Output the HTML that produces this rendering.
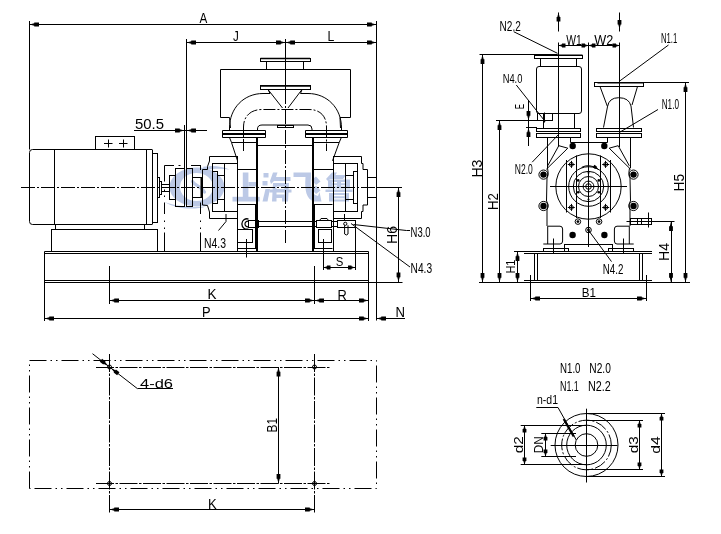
<!DOCTYPE html>
<html><head><meta charset="utf-8"><title>Pump outline drawing</title>
<style>
html,body{margin:0;padding:0;background:#fff;}
body{width:721px;height:534px;overflow:hidden;font-family:"Liberation Sans",sans-serif;}
svg{display:block;will-change:transform;}
svg line,svg path,svg rect,svg circle,svg polyline{fill:none;stroke:#000;stroke-width:1;}
svg .f{fill:#000;stroke:none;}
svg .cl{stroke-dasharray:14 2 2 2;}
svg .cl2{stroke-dasharray:9 2 1.5 2;}
svg .cl3{stroke-dasharray:12 2 2 2;}
svg .cl4{stroke-dasharray:18 1.5 2.5 1.5;}
svg .ph{stroke-dasharray:17 4 1.5 4 1.5 4;}
svg .wm{fill:#bcc9e6;stroke:none;}
svg .wms{fill:none;stroke:#bcc9e6;}
svg text{font-family:"Liberation Sans",sans-serif;fill:#000;stroke:none;}
</style></head><body>
<svg width="721" height="534" viewBox="0 0 721 534">
<rect x="0" y="0" width="721" height="534" style="fill:#fff;stroke:none"/>
<g id="wm">
<path class="wm" fill-rule="evenodd" d="M169.5,187 A27.5,19.5 0 1 1 224.5,187 A27.5,19.5 0 1 1 169.5,187 Z M180,187 A16.5,14 0 1 0 213,187 A16.5,14 0 1 0 180,187 Z"/>
<path class="wms" style="stroke-width:3.2" stroke-linecap="round" d="M192.5,181.5 C195,186 201,186 204.5,192"/>
<path class="wm" d="M164.5,202 C176,209.5 196,210 206,206.5 C194,207.5 178,207 164.5,202 Z"/>
<path class="wm" d="M203,166.8 C212,165 222,166 229.5,169.5 C221,168.3 212,168.5 204,170.5 Z"/>
<rect x="242.8" y="172.5" width="5.6" height="24.5" class="wm"/>
<rect x="248.4" y="182" width="8.4" height="4.5" class="wm"/>
<rect x="232.5" y="196.8" width="27.1" height="4.7" class="wm"/>
<rect x="263.5" y="173" width="5.0" height="4.5" class="wm"/>
<rect x="262.5" y="181" width="5.0" height="4.5" class="wm"/>
<path class="wm" d="M262.5,201.5 L267.5,201.5 L270,189 L265.5,189 Z"/>
<path class="wm" d="M273,172.5 L277.5,172.5 L276,177 L290.5,177 L290.5,181 L274,181 L271,184 L270,181 Z"/>
<path class="wm" fill-rule="evenodd" d="M273,183 L289,183 L288,201.5 L282,201.5 L282,198 L276.5,198 L276.5,201.5 L272,201.5 Z M276.5,186.5 L276.5,189 L284.5,189 L284.5,186.5 Z M276.5,192 L276.5,194.5 L284.5,194.5 L284.5,192 Z"/>
<rect x="269.5" y="189.5" width="22.0" height="3.0" class="wm"/>
<path class="wm" d="M293.5,172.5 L311,172.5 L311,177 C310,188 312,195 318,196 L319.5,192 L321.5,201.5 L314,201.5 C306,199 304.5,190 305.5,177 L293.5,177 Z"/>
<path class="wm" d="M311.5,180 L316,176.5 L320.5,181.5 L316,185 Z"/>
<path class="wm" d="M311.5,189 L316,185.5 L320.5,190.5 L316,194 Z"/>
<path class="wm" d="M332,172.5 L337,172.5 L335.5,175 L346,175 L343,179 L330,179 L328,181 L326,179 Z"/>
<path class="wm" fill-rule="evenodd" d="M328,179.5 L350,179.5 L350,188.5 L328,188.5 Z M332.5,182 L332.5,183.2 L337,183.2 L337,182 Z M341,182 L341,183.2 L345.5,183.2 L345.5,182 Z M332.5,185.2 L332.5,186.4 L337,186.4 L337,185.2 Z M341,185.2 L341,186.4 L345.5,186.4 L345.5,185.2 Z"/>
<rect x="325.5" y="189.5" width="27.0" height="2.5" class="wm"/>
<path class="wm" fill-rule="evenodd" d="M329,193 L349,193 L349,201.5 L329,201.5 Z M333.5,195 L333.5,196.3 L344.5,196.3 L344.5,195 Z M333.5,198.3 L333.5,199.5 L344.5,199.5 L344.5,198.3 Z"/>
</g>
<g id="mainview">
<line x1="29.5" y1="21" x2="29.5" y2="149.5"/>
<line x1="376.5" y1="21" x2="376.5" y2="320.5"/>
<line x1="29" y1="24.5" x2="377" y2="24.5"/>
<polygon class="f" points="29.5,24.5 34.25,23.32 34.25,22.6 39.0,22.6 39.0,26.4 34.25,26.4 34.25,25.68"/>
<polygon class="f" points="376.5,24.5 371.75,25.68 371.75,26.4 367.0,26.4 367.0,22.6 371.75,22.6 371.75,23.32"/>
<text x="199.5" y="22.5" font-size="14.5" textLength="7.8" lengthAdjust="spacingAndGlyphs">A</text>
<line x1="186.5" y1="39" x2="186.5" y2="206"/>
<line x1="184.5" y1="125" x2="184.5" y2="206"/>
<line x1="186.5" y1="42.5" x2="376.5" y2="42.5"/>
<polygon class="f" points="186.5,42.5 191.25,41.32 191.25,40.6 196.0,40.6 196.0,44.4 191.25,44.4 191.25,43.68"/>
<polygon class="f" points="285.5,42.5 280.75,43.68 280.75,44.4 276.0,44.4 276.0,40.6 280.75,40.6 280.75,41.32"/>
<polygon class="f" points="285.5,42.5 290.25,41.32 290.25,40.6 295.0,40.6 295.0,44.4 290.25,44.4 290.25,43.68"/>
<polygon class="f" points="376.5,42.5 371.75,43.68 371.75,44.4 367.0,44.4 367.0,40.6 371.75,40.6 371.75,41.32"/>
<text x="233" y="41.2" font-size="14" textLength="5.8" lengthAdjust="spacingAndGlyphs">J</text>
<text x="327.5" y="41" font-size="14" textLength="6.8" lengthAdjust="spacingAndGlyphs">L</text>
<line x1="285.5" y1="39" x2="285.5" y2="90"/>
<line x1="285.5" y1="90" x2="285.5" y2="243" class="cl"/>
<line x1="134" y1="130.5" x2="207" y2="130.5"/>
<polygon class="f" points="184.5,130.5 179.75,131.68 179.75,132.4 175.0,132.4 175.0,128.6 179.75,128.6 179.75,129.32"/>
<polygon class="f" points="186.5,130.5 191.25,129.32 191.25,128.6 196.0,128.6 196.0,132.4 191.25,132.4 191.25,131.68"/>
<text x="135" y="129.3" font-size="14" textLength="29" lengthAdjust="spacingAndGlyphs">50.5</text>
<line x1="21" y1="187.5" x2="402" y2="187.5" class="cl"/>
<path d="M32.5,149.5 L146.5,149.5 L146.5,224.5 L32.5,224.5 Q29.5,224.5 29.5,221.5 L29.5,152.5 Q29.5,149.5 32.5,149.5 Z"/>
<line x1="54.5" y1="149.5" x2="54.5" y2="224.5"/>
<line x1="146" y1="149.5" x2="152" y2="149.5"/>
<line x1="152.5" y1="149.5" x2="152.5" y2="224.5"/>
<line x1="146" y1="224.5" x2="152" y2="224.5"/>
<rect x="152.5" y="153.5" width="5.0" height="69.0"/>
<rect x="95.5" y="136.5" width="39.0" height="13.0"/>
<line x1="104" y1="143.5" x2="112.5" y2="143.5"/>
<line x1="108.5" y1="139.5" x2="108.5" y2="147.5"/>
<line x1="119" y1="143.5" x2="127.5" y2="143.5"/>
<line x1="123.5" y1="139.5" x2="123.5" y2="147.5"/>
<rect x="55.5" y="224.5" width="89.0" height="5.0"/>
<rect x="51.5" y="229.5" width="106.0" height="22.0"/>
<rect x="157.5" y="177.5" width="2.0" height="20.0"/>
<rect x="159.5" y="181.5" width="2.0" height="13.0"/>
<line x1="161.5" y1="184.5" x2="169.5" y2="184.5"/>
<line x1="161.5" y1="191.5" x2="169.5" y2="191.5"/>
<rect x="169.5" y="175.5" width="6.0" height="24.0"/>
<rect x="175.5" y="168.5" width="9.0" height="38.0"/>
<rect x="186.5" y="168.5" width="6.0" height="38.0"/>
<rect x="192.5" y="177.5" width="9.0" height="20.0"/>
<rect class="f" x="200.5" y="177" width="2" height="20.5"/>
<line x1="164.5" y1="202.5" x2="164.5" y2="214"/>
<line x1="164.5" y1="220.5" x2="164.5" y2="222"/>
<line x1="164.5" y1="227.5" x2="164.5" y2="229"/>
<line x1="164.5" y1="232.5" x2="164.5" y2="251"/>
<line x1="200.5" y1="202.5" x2="200.5" y2="214"/>
<line x1="200.5" y1="220.5" x2="200.5" y2="222"/>
<line x1="200.5" y1="227.5" x2="200.5" y2="229"/>
<line x1="200.5" y1="232.5" x2="200.5" y2="251"/>
<line x1="164.5" y1="165.5" x2="164.5" y2="181.5"/>
<line x1="164.5" y1="189.5" x2="164.5" y2="191"/>
<line x1="164.5" y1="195.5" x2="164.5" y2="197"/>
<line x1="200.5" y1="165.5" x2="200.5" y2="170"/>
<line x1="164.5" y1="165.5" x2="174" y2="165.5"/>
<line x1="178.5" y1="165.5" x2="180.5" y2="165.5"/>
<line x1="191" y1="165.5" x2="201" y2="165.5"/>
<line x1="44.5" y1="251.5" x2="368.5" y2="251.5"/>
<line x1="44.5" y1="253.5" x2="368.5" y2="253.5"/>
<line x1="44.5" y1="280.5" x2="368.5" y2="280.5"/>
<line x1="44.5" y1="282.5" x2="402.5" y2="282.5"/>
<line x1="44.5" y1="251.5" x2="44.5" y2="321"/>
<line x1="368.5" y1="251.5" x2="368.5" y2="321"/>
<line x1="109.5" y1="266" x2="109.5" y2="304"/>
<line x1="314.5" y1="266" x2="314.5" y2="304"/>
<line x1="109.5" y1="300.5" x2="368.5" y2="300.5"/>
<polygon class="f" points="109.5,300.5 114.25,299.32 114.25,298.6 119.0,298.6 119.0,302.4 114.25,302.4 114.25,301.68"/>
<polygon class="f" points="314.5,300.5 309.75,301.68 309.75,302.4 305.0,302.4 305.0,298.6 309.75,298.6 309.75,299.32"/>
<polygon class="f" points="314.5,300.5 319.25,299.32 319.25,298.6 324.0,298.6 324.0,302.4 319.25,302.4 319.25,301.68"/>
<polygon class="f" points="368.5,300.5 363.75,301.68 363.75,302.4 359.0,302.4 359.0,298.6 363.75,298.6 363.75,299.32"/>
<line x1="44.5" y1="318.5" x2="368.5" y2="318.5"/>
<line x1="376.5" y1="318.5" x2="405" y2="318.5"/>
<polygon class="f" points="44.5,318.5 49.25,317.32 49.25,316.6 54.0,316.6 54.0,320.4 49.25,320.4 49.25,319.68"/>
<polygon class="f" points="368.5,318.5 363.75,319.68 363.75,320.4 359.0,320.4 359.0,316.6 363.75,316.6 363.75,317.32"/>
<polygon class="f" points="376.5,318.5 381.25,317.32 381.25,316.6 386.0,316.6 386.0,320.4 381.25,320.4 381.25,319.68"/>
<text x="207.5" y="299" font-size="14.5" textLength="9" lengthAdjust="spacingAndGlyphs">K</text>
<text x="202" y="317" font-size="14.5" textLength="8.6" lengthAdjust="spacingAndGlyphs">P</text>
<text x="337.5" y="300" font-size="14.5" textLength="9.3" lengthAdjust="spacingAndGlyphs">R</text>
<text x="395.5" y="316.7" font-size="14.5" textLength="9.5" lengthAdjust="spacingAndGlyphs">N</text>
<line x1="323.5" y1="239" x2="323.5" y2="270"/>
<line x1="355.5" y1="227" x2="355.5" y2="270"/>
<line x1="323.5" y1="267.5" x2="355" y2="267.5"/>
<polygon class="f" points="323.5,267.5 327.0,266.32 327.0,265.6 330.5,265.6 330.5,269.4 327.0,269.4 327.0,268.68"/>
<polygon class="f" points="355,267.5 351.5,268.68 351.5,269.4 348.0,269.4 348.0,265.6 351.5,265.6 351.5,266.32"/>
<text x="335.8" y="265.8" font-size="13.5" textLength="7.6" lengthAdjust="spacingAndGlyphs">S</text>
<line x1="376.5" y1="187.5" x2="402" y2="187.5"/>
<line x1="398.5" y1="187.5" x2="398.5" y2="282"/>
<polygon class="f" points="398.5,187.5 399.68,192.25 400.4,192.25 400.4,197.0 396.6,197.0 396.6,192.25 397.32,192.25"/>
<polygon class="f" points="398.5,282 397.32,277.25 396.6,277.25 396.6,272.5 400.4,272.5 400.4,277.25 399.68,277.25"/>
<text transform="translate(397.3,244) rotate(-90)" font-size="14" textLength="18" lengthAdjust="spacingAndGlyphs">H6</text>
<path d="M353.5,224.5 L406.5,230.5 L410,230.5"/>
<text x="410.6" y="237" font-size="14.5" textLength="20" lengthAdjust="spacingAndGlyphs">N3.0</text>
<line x1="351" y1="223.5" x2="410" y2="267"/>
<text x="410.6" y="273.3" font-size="14.5" textLength="21.5" lengthAdjust="spacingAndGlyphs">N4.3</text>
<path d="M226,214 L226,221.5 L218.5,230.5"/>
<text x="204" y="247.5" font-size="14" textLength="22" lengthAdjust="spacingAndGlyphs">N4.3</text>
</g>
<g id="pump">
<rect x="260.5" y="58.5" width="50.0" height="3.0"/>
<line x1="260.5" y1="58.5" x2="310" y2="58.5" style="stroke-width:1.6"/>
<line x1="266.5" y1="61.5" x2="266.5" y2="69.5"/>
<line x1="303.5" y1="61.5" x2="303.5" y2="69.5"/>
<path d="M229.5,117.5 L220.5,117.5 L220.5,69.5 L350.5,69.5 L350.5,117.5 L340,117.5"/>
<rect x="260.5" y="85.5" width="50.0" height="4.0"/>
<line x1="260.5" y1="86" x2="310" y2="86" style="stroke-width:1.6"/>
<path d="M268,89.5 L282.5,108"/>
<path d="M302,89.5 L288,108"/>
<path d="M268,89.5 L270,93.5"/>
<path d="M302,89.5 L300.5,93.5"/>
<path d="M229.5,130.5 L229.5,128 C229.5,108 244,93.5 263,93.5 L270,93.5"/>
<path d="M300.5,93.5 L308,93.5 C327,93.5 341.5,108 341.5,128 L341.5,130.5"/>
<line x1="229.5" y1="117.5" x2="230.5" y2="128"/>
<line x1="340" y1="117.5" x2="340.5" y2="128"/>
<path d="M243.5,151 L243.5,127 C243.5,116 251,109.5 262,109.5 L309,109.5 C320,109.5 326.5,116 326.5,127 L326.5,151" class="cl3"/>
<path d="M257.5,130.5 L257.5,129 Q257.5,125 262,125 L308,125 Q312,125 312,129 L312,130.5"/>
<rect x="277.5" y="125.5" width="16.0" height="2.0"/>
<line x1="222.5" y1="130.5" x2="265.5" y2="130.5"/>
<line x1="222.5" y1="134" x2="265.5" y2="134" style="stroke-width:2"/>
<line x1="222.5" y1="137.5" x2="265.5" y2="137.5"/>
<line x1="222.5" y1="130.5" x2="222.5" y2="137.5"/>
<line x1="265.5" y1="130.5" x2="265.5" y2="137.5"/>
<line x1="305.5" y1="130.5" x2="347.5" y2="130.5"/>
<line x1="305.5" y1="134" x2="347.5" y2="134" style="stroke-width:2"/>
<line x1="305.5" y1="137.5" x2="347.5" y2="137.5"/>
<line x1="305.5" y1="130.5" x2="305.5" y2="137.5"/>
<line x1="347.5" y1="130.5" x2="347.5" y2="137.5"/>
<path d="M229.5,137.5 L231.5,142.5 L237.5,160.8"/>
<path d="M341.3,137.5 L339.2,142.5 L332.5,160.8"/>
<line x1="257" y1="137.5" x2="257" y2="251.5" style="stroke-width:2"/>
<line x1="313" y1="137.5" x2="313" y2="251.5" style="stroke-width:2"/>
<line x1="257.5" y1="145.5" x2="313" y2="145.5"/>
<line x1="231.5" y1="142.5" x2="257" y2="142.5"/>
<line x1="313" y1="142.5" x2="339.2" y2="142.5"/>
<line x1="237.5" y1="169.5" x2="257.5" y2="169.5"/>
<line x1="313" y1="169.5" x2="333" y2="169.5"/>
<line x1="237.5" y1="156" x2="237.5" y2="251.5"/>
<line x1="333.5" y1="156" x2="333.5" y2="251.5"/>
<path d="M237.5,156.5 L209.5,156.5 L209.5,161 L207.5,166.5 L207.5,169.5 L202.5,169.5 L202.5,205 L207.5,205.5 L209.5,212 L209.5,218.5 L237.5,218.5"/>
<rect x="212.5" y="163.5" width="25.0" height="48.0"/>
<line x1="224.5" y1="163.5" x2="224.5" y2="211.5"/>
<rect x="212.5" y="171.5" width="5.0" height="32.0"/>
<line x1="217.5" y1="175.5" x2="224.5" y2="175.5"/>
<line x1="217.5" y1="199.5" x2="224.5" y2="199.5"/>
<path d="M333,156.5 L361.5,156.5 L361.5,163.5 L363,163.5 L363,169.5 L367.5,169.5 L367.5,205 L363,205 L363,211.5 L361.5,211.5 L361.5,218.5 L333,218.5"/>
<rect x="333.5" y="163.5" width="24.0" height="48.0"/>
<line x1="345.5" y1="163.5" x2="345.5" y2="211.5"/>
<rect x="353.5" y="171.5" width="4.0" height="32.0"/>
<line x1="345.5" y1="175.5" x2="353.5" y2="175.5"/>
<line x1="345.5" y1="199.5" x2="353.5" y2="199.5"/>
<rect x="367.5" y="177.5" width="9.0" height="20.0"/>
<line x1="237.5" y1="204.5" x2="257.5" y2="204.5"/>
<line x1="255.5" y1="204" x2="255.5" y2="248.5"/>
<line x1="237.5" y1="248.5" x2="257.5" y2="248.5"/>
<line x1="312.5" y1="204.5" x2="332.5" y2="204.5"/>
<line x1="314.5" y1="204" x2="314.5" y2="248.5"/>
<line x1="312.5" y1="248.5" x2="332.5" y2="248.5"/>
<rect x="237.5" y="229.5" width="15.0" height="13.0"/>
<line x1="246.5" y1="239" x2="246.5" y2="257.5"/>
<rect x="248.5" y="220.5" width="10.0" height="7.0"/>
<path d="M248.5,219 A5.2,5.2 0 1 0 248.5,229" style="stroke-width:1.3"/>
<path d="M248.5,221.3 A2.8,2.8 0 1 0 248.5,226.7" style="stroke-width:1.2"/>
<line x1="258.5" y1="221.5" x2="316.5" y2="221.5"/>
<line x1="258.5" y1="226.5" x2="316.5" y2="226.5"/>
<rect x="316.5" y="220.5" width="15.0" height="7.0"/>
<path d="M319.5,220.5 L321,218.5 L327,218.5 L328.5,220.5"/>
<rect x="318.5" y="229.5" width="13.0" height="13.0"/>
<line x1="331.5" y1="221.5" x2="337" y2="221.5"/>
<line x1="331.5" y1="226.5" x2="337" y2="226.5"/>
<rect x="337.5" y="220.5" width="18.0" height="7.0"/>
<circle cx="345.3" cy="223.8" r="1.6"/>
<path d="M344.6,225.3 L344.6,234 Q346.3,236 348,234 L348,225.3"/>
<line x1="344.5" y1="214" x2="344.5" y2="221"/>
</g>
<g id="rightview">
<line x1="558.5" y1="12.5" x2="558.5" y2="31.5"/>
<polygon class="f" points="558.5,12.5 559.68,17.0 560.4,17.0 560.4,21.5 556.6,21.5 556.6,17.0 557.32,17.0"/>
<line x1="619.5" y1="12.5" x2="619.5" y2="31.5"/>
<polygon class="f" points="619.5,29 618.32,24.5 617.6,24.5 617.6,20.0 621.4,20.0 621.4,24.5 620.68,24.5"/>
<line x1="558.5" y1="42.5" x2="558.5" y2="146.5"/>
<line x1="588.5" y1="42.5" x2="588.5" y2="247"/>
<line x1="619.5" y1="42.5" x2="619.5" y2="147"/>
<line x1="558.5" y1="45.5" x2="619.5" y2="45.5"/>
<polygon class="f" points="558.5,45.5 562.0,44.32 562.0,43.6 565.5,43.6 565.5,47.4 562.0,47.4 562.0,46.68"/>
<polygon class="f" points="588.5,45.5 585.0,46.68 585.0,47.4 581.5,47.4 581.5,43.6 585.0,43.6 585.0,44.32"/>
<polygon class="f" points="588.5,45.5 592.0,44.32 592.0,43.6 595.5,43.6 595.5,47.4 592.0,47.4 592.0,46.68"/>
<polygon class="f" points="619.5,45.5 616.0,46.68 616.0,47.4 612.5,47.4 612.5,43.6 616.0,43.6 616.0,44.32"/>
<text x="566.3" y="45" font-size="14" textLength="15.5" lengthAdjust="spacingAndGlyphs">W1</text>
<text x="594.3" y="45" font-size="14" textLength="19" lengthAdjust="spacingAndGlyphs">W2</text>
<rect x="534.5" y="55.5" width="48.0" height="3.0"/>
<line x1="534.5" y1="55.3" x2="582.5" y2="55.3" style="stroke-width:1.5"/>
<line x1="540.5" y1="58.5" x2="540.5" y2="66.5"/>
<line x1="576.5" y1="58.5" x2="576.5" y2="66.5"/>
<rect x="536.5" y="66.5" width="45.0" height="47.0" rx="2.5"/>
<line x1="543.5" y1="113.5" x2="543.5" y2="128"/>
<line x1="574.5" y1="113.5" x2="574.5" y2="128"/>
<rect x="536.5" y="128.5" width="44.0" height="3.0"/>
<rect x="536.5" y="133.5" width="44.0" height="4.0"/>
<rect x="537.5" y="113.5" width="15.0" height="7.0"/>
<line x1="544.5" y1="112.5" x2="544.5" y2="122.5"/>
<rect x="594.5" y="82.5" width="49.0" height="4.0"/>
<line x1="597.5" y1="82.7" x2="643.5" y2="82.7" style="stroke-width:1.6"/>
<path d="M600,86.5 L607.5,106.7"/>
<path d="M637.5,86.5 L632,105"/>
<path d="M603.5,127.5 L607.5,106.7 Q609,97.7 618.7,97.7 Q629,97.7 631,106 L633.5,127.5"/>
<rect x="596.5" y="128.5" width="45.0" height="3.0"/>
<rect x="596.5" y="133.5" width="45.0" height="4.0"/>
<line x1="547.5" y1="137.5" x2="547.5" y2="168"/>
<line x1="630.5" y1="137.5" x2="630.5" y2="168"/>
<line x1="558.5" y1="137.5" x2="558.5" y2="146"/>
<path d="M618.2,145.7 L609.2,148.2 L630.7,169.3"/>
<path d="M618.2,145.7 L629.3,165.8"/>
<circle cx="604.3" cy="146" r="3.2" class="f"/>
<circle cx="633.5" cy="174.6" r="3.2" class="f"/>
<circle cx="633.5" cy="206" r="3.2" class="f"/>
<circle cx="633.5" cy="174.6" r="4.6"/>
<circle cx="633.5" cy="206" r="4.6"/>
<path d="M629.5,168 Q628.0,172 630.0,178 L630.5,201 Q628.0,204 630.0,210 L630.0,226"/>
<circle cx="605.7" cy="164.4" r="2"/>
<line x1="602.2" y1="164.5" x2="609.2" y2="164.5"/>
<line x1="605.5" y1="160.9" x2="605.5" y2="167.9"/>
<circle cx="605.7" cy="207.4" r="2"/>
<line x1="602.2" y1="207.5" x2="609.2" y2="207.5"/>
<line x1="605.5" y1="203.9" x2="605.5" y2="210.9"/>
<circle cx="598.8" cy="180.4" r="1.3" class="f"/>
<circle cx="598.8" cy="192.2" r="1.3" class="f"/>
<line x1="610.5" y1="160" x2="610.5" y2="212.5"/>
<line x1="600.5" y1="155.5" x2="600.5" y2="218"/>
<path d="M629.3,244 L629.3,226.2 L617.0,226.2 Q614.4,226.2 614.4,229 L614.4,241 Q614.4,244 617.0,244 L633.7,244"/>
<rect x="608.5" y="248.5" width="25.0" height="3.0"/>
<line x1="623.5" y1="238.5" x2="623.5" y2="253"/>
<circle cx="604.4" cy="235" r="3.2" class="f"/>
<circle cx="599.1" cy="221.6" r="2.8"/>
<circle cx="599.1" cy="221.6" r="1.4" class="f"/>
<path d="M558.8,145.7 L567.8,148.2 L546.3,169.3"/>
<path d="M558.8,145.7 L547.7,165.8"/>
<circle cx="572.7" cy="146" r="3.2" class="f"/>
<circle cx="543.5" cy="174.6" r="3.2" class="f"/>
<circle cx="543.5" cy="206" r="3.2" class="f"/>
<circle cx="543.5" cy="174.6" r="4.6"/>
<circle cx="543.5" cy="206" r="4.6"/>
<path d="M547.5,168 Q549.0,172 547.0,178 L546.5,201 Q549.0,204 547.0,210 L547.0,226"/>
<circle cx="571.3" cy="164.4" r="2"/>
<line x1="567.8" y1="164.5" x2="574.8" y2="164.5"/>
<line x1="571.5" y1="160.9" x2="571.5" y2="167.9"/>
<circle cx="571.3" cy="207.4" r="2"/>
<line x1="567.8" y1="207.5" x2="574.8" y2="207.5"/>
<line x1="571.5" y1="203.9" x2="571.5" y2="210.9"/>
<circle cx="578.2" cy="180.4" r="1.3" class="f"/>
<circle cx="578.2" cy="192.2" r="1.3" class="f"/>
<line x1="566.5" y1="160" x2="566.5" y2="212.5"/>
<line x1="576.5" y1="155.5" x2="576.5" y2="218"/>
<path d="M547.7,244 L547.7,226.2 L560.0,226.2 Q562.6,226.2 562.6,229 L562.6,241 Q562.6,244 560.0,244 L543.3,244"/>
<rect x="543.5" y="248.5" width="25.0" height="3.0"/>
<line x1="553.5" y1="238.5" x2="553.5" y2="253"/>
<circle cx="572.6" cy="235" r="3.2" class="f"/>
<circle cx="577.9" cy="221.6" r="2.8"/>
<circle cx="577.9" cy="221.6" r="1.4" class="f"/>
<line x1="570.5" y1="142.5" x2="607.5" y2="142.5"/>
<line x1="570.5" y1="137.5" x2="570.5" y2="142.5"/>
<line x1="607.5" y1="137.5" x2="607.5" y2="142.5"/>
<circle cx="588.5" cy="186.5" r="32.7"/>
<circle cx="588.5" cy="186.5" r="19.8"/>
<circle cx="588.5" cy="186.5" r="15.2"/>
<circle cx="588.5" cy="186.5" r="10"/>
<circle cx="588.5" cy="186.5" r="5.4"/>
<circle cx="588.5" cy="186.5" r="2.8"/>
<line x1="550" y1="186.5" x2="627" y2="186.5"/>
<circle cx="588.5" cy="230" r="2.8"/>
<circle cx="588.5" cy="230" r="1.4" class="f"/>
<circle cx="588.5" cy="172.8" r="1" class="f"/>
<circle cx="588.5" cy="199.5" r="1" class="f"/>
<path d="M581.7,167.3 Q589,163.5 597,168.5"/>
<polygon class="f" points="598.5,169.5 595.51,168.54 595.18,169.01 592.72,167.29 594.45,164.83 596.9,166.55 596.58,167.02"/>
<rect x="564.5" y="244.5" width="48.0" height="7.0"/>
<rect x="630.5" y="218.5" width="21.0" height="6.0"/>
<line x1="637.5" y1="218.5" x2="637.5" y2="224"/>
<line x1="641.5" y1="218.5" x2="641.5" y2="224"/>
<line x1="648.5" y1="212.5" x2="648.5" y2="227.5"/>
<line x1="626.5" y1="221.5" x2="674.5" y2="221.5"/>
<line x1="524" y1="251.5" x2="652" y2="251.5"/>
<line x1="524" y1="253.5" x2="652" y2="253.5"/>
<line x1="524" y1="280.5" x2="652" y2="280.5"/>
<line x1="534.5" y1="253.5" x2="534.5" y2="280.5"/>
<line x1="537.5" y1="253.5" x2="537.5" y2="280.5"/>
<line x1="639.5" y1="253.5" x2="639.5" y2="280.5"/>
<line x1="642.5" y1="253.5" x2="642.5" y2="280.5"/>
<line x1="479" y1="282.5" x2="690" y2="282.5"/>
<line x1="530.5" y1="275" x2="530.5" y2="301"/>
<line x1="646.5" y1="275" x2="646.5" y2="301"/>
<line x1="530.5" y1="298.5" x2="646.5" y2="298.5"/>
<polygon class="f" points="530.5,298.5 535.25,297.32 535.25,296.6 540.0,296.6 540.0,300.4 535.25,300.4 535.25,299.68"/>
<polygon class="f" points="646.5,298.5 641.75,299.68 641.75,300.4 637.0,300.4 637.0,296.6 641.75,296.6 641.75,297.32"/>
<text x="581.8" y="297" font-size="13.5" textLength="14.2" lengthAdjust="spacingAndGlyphs">B1</text>
<line x1="482.5" y1="54.5" x2="482.5" y2="282.5"/>
<polygon class="f" points="482.5,54.5 483.68,59.25 484.4,59.25 484.4,64.0 480.6,64.0 480.6,59.25 481.32,59.25"/>
<polygon class="f" points="482.5,282.5 481.32,277.75 480.6,277.75 480.6,273.0 484.4,273.0 484.4,277.75 483.68,277.75"/>
<line x1="499.5" y1="120.5" x2="499.5" y2="282.5"/>
<polygon class="f" points="499.5,120.5 500.68,125.25 501.4,125.25 501.4,130.0 497.6,130.0 497.6,125.25 498.32,125.25"/>
<polygon class="f" points="499.5,282.5 498.32,277.75 497.6,277.75 497.6,273.0 501.4,273.0 501.4,277.75 500.68,277.75"/>
<line x1="517.5" y1="251.5" x2="517.5" y2="282.5"/>
<polygon class="f" points="517.5,251.5 518.68,256.25 519.4,256.25 519.4,261.0 515.6,261.0 515.6,256.25 516.32,256.25"/>
<polygon class="f" points="517.5,282.5 516.32,277.75 515.6,277.75 515.6,273.0 519.4,273.0 519.4,277.75 518.68,277.75"/>
<line x1="685.5" y1="82.5" x2="685.5" y2="282.5"/>
<polygon class="f" points="685.5,82.5 686.68,87.25 687.4,87.25 687.4,92.0 683.6,92.0 683.6,87.25 684.32,87.25"/>
<polygon class="f" points="685.5,282.5 684.32,277.75 683.6,277.75 683.6,273.0 687.4,273.0 687.4,277.75 686.68,277.75"/>
<line x1="671.5" y1="221.5" x2="671.5" y2="282.5"/>
<polygon class="f" points="671,221.5 672.18,226.25 672.9,226.25 672.9,231.0 669.1,231.0 669.1,226.25 669.82,226.25"/>
<polygon class="f" points="671,282.5 669.82,277.75 669.1,277.75 669.1,273.0 672.9,273.0 672.9,277.75 672.18,277.75"/>
<line x1="479.5" y1="54.5" x2="557.5" y2="54.5"/>
<line x1="496" y1="120.5" x2="552.5" y2="120.5"/>
<line x1="598.5" y1="82.5" x2="689" y2="82.5"/>
<line x1="514" y1="251.5" x2="524" y2="251.5"/>
<text transform="translate(481.5,177.6) rotate(-90)" font-size="14" textLength="18" lengthAdjust="spacingAndGlyphs">H3</text>
<text transform="translate(498,210) rotate(-90)" font-size="14" textLength="17" lengthAdjust="spacingAndGlyphs">H2</text>
<text transform="translate(515.3,273.6) rotate(-90)" font-size="12.5" textLength="13.8" lengthAdjust="spacingAndGlyphs">H1</text>
<text transform="translate(684,191.5) rotate(-90)" font-size="14" textLength="17.5" lengthAdjust="spacingAndGlyphs">H5</text>
<text transform="translate(669,261) rotate(-90)" font-size="14" textLength="18" lengthAdjust="spacingAndGlyphs">H4</text>
<line x1="528.5" y1="100" x2="528.5" y2="146"/>
<polygon class="f" points="528.5,120.5 527.32,115.75 526.6,115.75 526.6,111.0 530.4,111.0 530.4,115.75 529.68,115.75"/>
<polygon class="f" points="528.5,127.5 529.68,132.25 530.4,132.25 530.4,137.0 526.6,137.0 526.6,132.25 527.32,132.25"/>
<line x1="526" y1="127.5" x2="537" y2="127.5"/>
<text transform="translate(524.4,109) rotate(-90)" font-size="12.5" textLength="5" lengthAdjust="spacingAndGlyphs">E</text>
<line x1="513.7" y1="31.7" x2="557.5" y2="53.3"/>
<text x="499.5" y="30.7" font-size="14" textLength="21.3" lengthAdjust="spacingAndGlyphs">N2.2</text>
<line x1="668.5" y1="45" x2="619.3" y2="81.3"/>
<text x="661" y="42.5" font-size="14" textLength="16.3" lengthAdjust="spacingAndGlyphs">N1.1</text>
<line x1="658" y1="109.5" x2="619.3" y2="132.5"/>
<text x="661.7" y="108.7" font-size="14" textLength="17.3" lengthAdjust="spacingAndGlyphs">N1.0</text>
<line x1="516.3" y1="85" x2="545" y2="121.3"/>
<text x="502.7" y="82.7" font-size="13.5" textLength="19.7" lengthAdjust="spacingAndGlyphs">N4.0</text>
<line x1="532.2" y1="162.2" x2="559" y2="134"/>
<text x="514.8" y="174.3" font-size="14" textLength="18" lengthAdjust="spacingAndGlyphs">N2.0</text>
<line x1="588.3" y1="230" x2="611.5" y2="261.6"/>
<text x="602.8" y="274" font-size="14" textLength="20.6" lengthAdjust="spacingAndGlyphs">N4.2</text>
</g>
<g id="plan">
<path d="M29.5,488.5 L29.5,360.5 L376.5,360.5 L376.5,488.5 Z" class="ph"/>
<line x1="96" y1="367.5" x2="330" y2="367.5" class="cl4"/>
<line x1="96" y1="483.5" x2="330" y2="483.5" class="cl4"/>
<line x1="109.5" y1="354" x2="109.5" y2="512.5" class="cl4"/>
<line x1="314.5" y1="354" x2="314.5" y2="512.5" class="cl4"/>
<circle cx="109.5" cy="367" r="2"/>
<circle cx="109.5" cy="483.5" r="2"/>
<circle cx="314.5" cy="367" r="2"/>
<circle cx="314.5" cy="483.5" r="2"/>
<line x1="92.5" y1="353.7" x2="109.5" y2="367"/>
<polygon class="f" points="108,365.8 103.73,363.96 103.28,364.53 99.74,361.76 102.08,358.76 105.62,361.53 105.18,362.1"/>
<line x1="109.5" y1="367" x2="137.5" y2="388.7"/>
<polygon class="f" points="111.2,368.3 115.47,370.14 115.92,369.57 119.46,372.34 117.12,375.34 113.58,372.57 114.02,372.0"/>
<line x1="137.5" y1="388.5" x2="173" y2="388.5"/>
<text x="140" y="388" font-size="12.5" textLength="33" lengthAdjust="spacingAndGlyphs">4-d6</text>
<line x1="278.5" y1="367" x2="278.5" y2="483.5"/>
<polygon class="f" points="278.5,367 279.68,371.75 280.4,371.75 280.4,376.5 276.6,376.5 276.6,371.75 277.32,371.75"/>
<polygon class="f" points="278.5,483.5 277.32,478.75 276.6,478.75 276.6,474.0 280.4,474.0 280.4,478.75 279.68,478.75"/>
<text transform="translate(277,432.5) rotate(-90)" font-size="14" textLength="14.5" lengthAdjust="spacingAndGlyphs">B1</text>
<line x1="109.5" y1="509.5" x2="314.5" y2="509.5"/>
<polygon class="f" points="109.5,509.5 114.25,508.32 114.25,507.6 119.0,507.6 119.0,511.4 114.25,511.4 114.25,510.68"/>
<polygon class="f" points="314.5,509.5 309.75,510.68 309.75,511.4 305.0,511.4 305.0,507.6 309.75,507.6 309.75,508.32"/>
<text x="208" y="509" font-size="14" textLength="8.7" lengthAdjust="spacingAndGlyphs">K</text>
</g>
<g id="flange">
<text x="560" y="372.5" font-size="15.5" textLength="20.5" lengthAdjust="spacingAndGlyphs">N1.0</text>
<text x="589.3" y="372.5" font-size="15.5" textLength="21.5" lengthAdjust="spacingAndGlyphs">N2.0</text>
<text x="560" y="391.2" font-size="15.5" textLength="18.8" lengthAdjust="spacingAndGlyphs">N1.1</text>
<text x="588" y="391.2" font-size="15.5" textLength="22.8" lengthAdjust="spacingAndGlyphs">N2.2</text>
<text x="537" y="403.7" font-size="12.5" textLength="21" lengthAdjust="spacingAndGlyphs">n-d1</text>
<path d="M536.3,407.5 L558,407.5 L576.3,440"/>
<path d="M563.7,419 L573.7,436.5" style="stroke-width:2.2"/>
<circle cx="586.5" cy="445" r="31.5"/>
<circle cx="586.5" cy="445" r="24.8" class="cl3"/>
<circle cx="586.5" cy="445" r="19.8"/>
<circle cx="586.5" cy="445" r="11.3"/>
<line x1="586.5" y1="408.7" x2="586.5" y2="482.5"/>
<line x1="550.7" y1="445.5" x2="617.5" y2="445.5"/>
<line x1="661.5" y1="413.5" x2="661.5" y2="476.5"/>
<polygon class="f" points="661.5,413.5 662.68,417.0 663.4,417.0 663.4,420.5 659.6,420.5 659.6,417.0 660.32,417.0"/>
<polygon class="f" points="661.5,476.5 660.32,473.0 659.6,473.0 659.6,469.5 663.4,469.5 663.4,473.0 662.68,473.0"/>
<line x1="586.5" y1="413.5" x2="665" y2="413.5"/>
<line x1="586.5" y1="476.5" x2="665" y2="476.5"/>
<line x1="639.5" y1="420.5" x2="639.5" y2="469.5"/>
<polygon class="f" points="639.5,420.5 640.68,424.0 641.4,424.0 641.4,427.5 637.6,427.5 637.6,424.0 638.32,424.0"/>
<polygon class="f" points="639.5,469.5 638.32,466.0 637.6,466.0 637.6,462.5 641.4,462.5 641.4,466.0 640.68,466.0"/>
<line x1="586.5" y1="420.5" x2="643" y2="420.5"/>
<line x1="586.5" y1="469.5" x2="643" y2="469.5"/>
<line x1="524.5" y1="425.5" x2="524.5" y2="464.5"/>
<polygon class="f" points="524.5,425.5 525.68,429.0 526.4,429.0 526.4,432.5 522.6,432.5 522.6,429.0 523.32,429.0"/>
<polygon class="f" points="524.5,464.5 523.32,461.0 522.6,461.0 522.6,457.5 526.4,457.5 526.4,461.0 525.68,461.0"/>
<line x1="520.7" y1="425.5" x2="586.5" y2="425.5"/>
<line x1="520.7" y1="464.5" x2="586.5" y2="464.5"/>
<line x1="545.5" y1="433.5" x2="545.5" y2="456.5"/>
<polygon class="f" points="545.5,433.5 546.68,437.0 547.4,437.0 547.4,440.5 543.6,440.5 543.6,437.0 544.32,437.0"/>
<polygon class="f" points="545.5,456.5 544.32,453.0 543.6,453.0 543.6,449.5 547.4,449.5 547.4,453.0 546.68,453.0"/>
<line x1="541.3" y1="433.5" x2="576" y2="433.5"/>
<line x1="541.3" y1="456.5" x2="576" y2="456.5"/>
<text transform="translate(660,453.7) rotate(-90)" font-size="13" textLength="17.5" lengthAdjust="spacingAndGlyphs">d4</text>
<text transform="translate(638.3,453.3) rotate(-90)" font-size="13" textLength="17" lengthAdjust="spacingAndGlyphs">d3</text>
<text transform="translate(522.5,453.3) rotate(-90)" font-size="13" textLength="17" lengthAdjust="spacingAndGlyphs">d2</text>
<text transform="translate(542.5,453.3) rotate(-90)" font-size="12.5" textLength="17" lengthAdjust="spacingAndGlyphs">DN</text>
</g>
</svg>
</body></html>
